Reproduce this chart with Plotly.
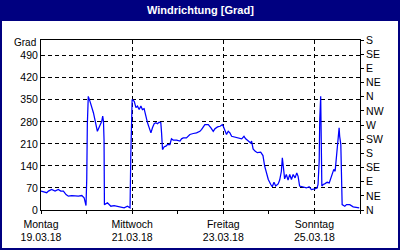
import plotly.graph_objects as go

# ---- data (hours since Mo 19.03.18 00:00, wind direction in degrees) ----
hours = [0.0, 1.2, 3.0, 3.9, 5.6, 7.4, 9.1, 10.4, 11.8, 13.2, 14.4, 16.2, 17.9, 19.7, 21.5, 22.7,
         23.7, 24.1, 24.4, 24.9, 25.8, 27.6, 29.7, 31.1, 32.0, 32.5, 32.9, 33.2, 33.4,
         35.0, 36.8, 38.5, 40.2, 42.0, 43.8, 45.5, 46.9, 47.3, 48.0, 49.1, 50.0, 50.8, 51.7,
         52.6, 53.4, 54.3, 55.2, 56.1, 57.0, 57.9, 58.7, 59.6, 60.5, 61.3, 62.2, 63.1, 63.5,
         64.0, 64.9, 65.8, 66.6, 67.9, 68.7, 69.6, 71.4, 73.2, 74.0, 74.9, 76.6, 78.4, 80.2,
         81.9, 83.7, 84.6, 86.3, 88.1, 89.5, 90.7, 91.6, 93.0, 94.3, 95.5, 96.0, 96.9, 97.7,
         98.6, 99.5, 100.4, 102.5, 104.3, 105.7, 106.9, 107.8, 109.2, 110.4, 110.9, 111.7,
         112.7, 113.9, 115.7, 116.9, 117.8, 118.8, 119.7, 121.0, 121.8, 122.7, 123.6, 124.9,
         125.7, 126.6, 127.1, 127.6, 128.3, 129.2, 130.1, 131.0, 131.9, 132.8, 133.8, 134.7,
         135.4, 136.2, 138.0, 139.8, 141.2, 142.4, 144.2, 145.4, 145.9, 146.5, 146.8, 147.3,
         147.9, 148.6, 149.4, 150.7, 151.8, 152.6, 153.3, 154.2, 154.9, 155.6, 156.5, 157.0,
         157.3, 157.9, 158.6, 160.0, 160.9, 162.6, 164.4, 166.2, 167.6]
direction = [60, 57, 55, 60, 65, 60, 65, 60, 60, 49, 44, 46, 44, 44, 46, 39,
             14, 99, 271, 361, 345, 309, 250, 271, 282, 298, 282, 224, 17,
             23, 12, 14, 12, 10, 7, 12, 7, 176, 351, 345, 325, 330, 319,
             330, 319, 322, 298, 277, 261, 245, 261, 274, 277, 274, 279, 277, 245,
             192, 201, 203, 208, 208, 226, 222, 222, 219, 226, 229, 229, 240, 243,
             245, 250, 256, 271, 271, 261, 250, 258, 264, 266, 271, 266, 250, 240,
             250, 245, 234, 231, 229, 226, 234, 226, 219, 213, 219, 194,
             187, 182, 184, 173, 139, 118, 97, 81, 74, 88, 76, 83,
             95, 123, 166, 139, 99, 113, 95, 113, 97, 113, 102, 118,
             107, 76, 72, 70, 74, 65, 67, 70, 81, 155, 287, 361,
             76, 81, 83, 88, 86, 99, 113, 129, 123, 171, 213, 261,
             234, 208, 17, 12, 17, 17, 10, 7, 7]

day_ticks = [0, 48, 96, 144]
day_names = ["Montag", "Mittwoch", "Freitag", "Sonntag"]
day_dates = ["19.03.18", "21.03.18", "23.03.18", "25.03.18"]
grad_ticks = [0, 70, 140, 210, 280, 350, 420, 490]
compass_ticks = [0, 45, 90, 135, 180, 225, 270, 315, 360, 405, 450, 495, 540]
compass_labels = ["N", "NE", "E", "SE", "S", "SW", "W", "NW", "N", "NE", "E", "SE", "S"]
title_text = "Windrichtung [Grad]"
unit_label = "Grad"

NAVY = "#000080"
FONT = "Liberation Sans"

fig = go.Figure()
fig.add_trace(go.Scatter(x=hours, y=direction, mode="lines",
                         line=dict(color="#0000ff", width=1.25), hoverinfo="skip"))
fig.add_trace(go.Scatter(x=hours, y=direction, mode="lines", yaxis="y2",
                         line=dict(color="rgba(0,0,0,0)", width=0), hoverinfo="skip"))

fig.update_layout(
    width=400, height=250,
    margin=dict(l=41, r=40, t=40, b=40, autoexpand=False),
    paper_bgcolor="white", plot_bgcolor="white",
    showlegend=False,
    font=dict(family=FONT, size=10, color="black"),
    xaxis=dict(range=[0, 168], tickvals=day_ticks,
               ticktext=[f"{n}<br>{d}" for n, d in zip(day_names, day_dates)],
               tickfont=dict(family=FONT, size=10.5, color="black"),
               ticklabelstandoff=1, automargin=False,
               showgrid=True, gridcolor="black", gridwidth=1, griddash="4px,3px",
               showline=True, linecolor="black", linewidth=1, mirror=True,
               ticks="outside", ticklen=3, tickcolor="black",
               minor=dict(dtick=24, tick0=0, ticks="outside", ticklen=3, tickcolor="black", showgrid=False),
               zeroline=False, fixedrange=True),
    yaxis=dict(range=[0, 540], tickvals=grad_ticks,
               tickfont=dict(family=FONT, size=10.5, color="black"),
               automargin=False,
               showgrid=True, gridcolor="black", gridwidth=1, griddash="4px,3px",
               showline=True, linecolor="black", linewidth=1, mirror=True,
               ticks="", zeroline=False, fixedrange=True),
    yaxis2=dict(range=[0, 540], tickvals=compass_ticks, ticktext=compass_labels,
                tickfont=dict(family=FONT, size=10.5, color="black"),
                overlaying="y", side="right", showgrid=False, automargin=False,
                showline=True, linecolor="black", linewidth=1,
                ticks="outside", ticklen=3, tickcolor="black",
                zeroline=False, fixedrange=True),
)

# title bar and outer frame (paper coordinates)
fig.add_shape(type="rect", xref="paper", yref="paper",
              x0=-41/319, x1=359/319, y0=(210-21)/170, y1=210/170,
              fillcolor=NAVY, line=dict(width=0), layer="above")
fig.add_shape(type="rect", xref="paper", yref="paper",
              x0=-40/319, x1=358/319, y0=-39/170, y1=209/170,
              fillcolor="rgba(0,0,0,0)", line=dict(color=NAVY, width=2), layer="above")

fig.add_annotation(text=f"<b>{title_text}</b>", xref="paper", yref="paper",
                   x=(200-41)/319, y=(210-10.5)/170, xanchor="center", yanchor="middle",
                   showarrow=False, font=dict(family=FONT, size=11, color="white"))
fig.add_annotation(text=unit_label, xref="paper", yref="y",
                   x=0, y=532, xanchor="right", yanchor="middle", xshift=-3,
                   showarrow=False, font=dict(family=FONT, size=10, color="black"))

fig.write_html("out.html")
